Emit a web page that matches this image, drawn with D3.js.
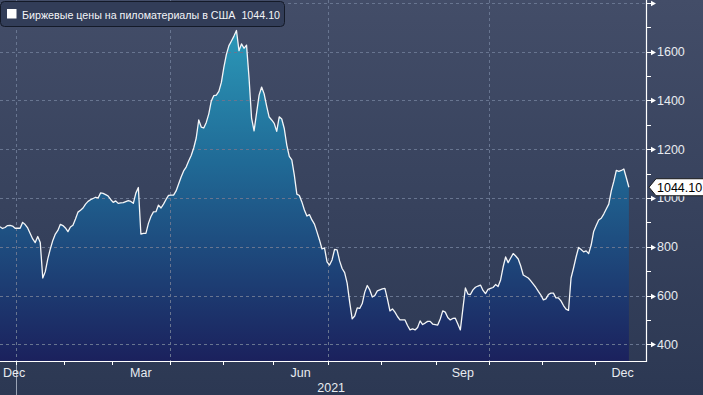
<!DOCTYPE html>
<html>
<head>
<meta charset="utf-8">
<script src="https://cdn.jsdelivr.net/npm/d3@7"></script>
<style>
  html, body { margin: 0; padding: 0; background: #2c3853; }
  svg { display: block; }
  text { font-family: "Liberation Sans", Arial, sans-serif; }
</style>
</head>
<body>
<div id="chart"></div>
<script>
// Lumber futures, daily closes by month (one value per trading day)
var dec20 = [882, 875, 879, 887, 888, 885, 876];
var jan21 = [876, 876, 900, 891, 877, 854, 832, 817, 842, 817, 672, 698, 750, 791, 826, 852, 867, 892, 887];
var feb21 = [877, 862, 881, 888, 914, 942, 950, 959, 975, 986, 993, 998, 1003, 1000, 1021, 1019, 1014, 1008, 994];
var mar21 = [982, 988, 978, 980, 981, 985, 989, 986, 978, 1020, 1043, 852, 855, 855, 896, 924, 943, 944, 971, 959, 975, 994, 1011];
var apr21 = [1012, 1012, 1029, 1057, 1086, 1111, 1127, 1152, 1174, 1205, 1246, 1320, 1291, 1287, 1310, 1345, 1398, 1420, 1422, 1437, 1474];
var may21 = [1537, 1589, 1625, 1644, 1664, 1687, 1604, 1632, 1614, 1627, 1492, 1328, 1275, 1349, 1422, 1455, 1427, 1377, 1332, 1320];
var jun21 = [1306, 1273, 1333, 1324, 1285, 1217, 1171, 1156, 1094, 1016, 1010, 984, 951, 926, 932, 910, 893, 861, 828, 791, 795, 738];
var jul21 = [725, 746, 789, 787, 742, 711, 694, 651, 573, 504, 516, 549, 547, 567, 614, 641, 623, 594, 600, 619, 623];
var aug21 = [627, 629, 586, 537, 545, 532, 514, 500, 500, 500, 477, 459, 463, 459, 469, 496, 481, 487, 494, 494, 483, 481];
var sep21 = [479, 504, 537, 532, 510, 500, 506, 507, 483, 459, 545, 631, 606, 604, 623, 634, 639, 643, 621, 608, 625];
var oct21 = [629, 633, 645, 637, 664, 717, 758, 735, 754, 772, 762, 750, 721, 684, 678, 672, 660, 647, 633, 617, 602];
var nov21 = [582, 586, 604, 610, 610, 590, 590, 578, 559, 544, 539, 672, 713, 758, 797, 789, 779, 783, 772, 807, 863];
var dec21 = [887, 910, 917, 934, 955, 975, 1029, 1068, 1113, 1109, 1113, 1119, 1082, 1044.1];

var firstDate = "2020-12-22";   // first close on the chart
var lastPrice = 1044.10;
var seriesName = "Биржевые цены на пиломатериалы в США";

// exchange holidays (no trading day)
var holidays = ["2020-12-25", "2021-01-01", "2021-01-18", "2021-02-15", "2021-04-02",
                "2021-05-31", "2021-07-05", "2021-09-06", "2021-11-25", "2021-12-24"];

var yMajor = [400, 600, 800, 1000, 1200, 1400, 1600, 1800];
var yMinor = [500, 700, 900, 1100, 1300, 1500, 1700];
var labelMonths = ["Dec", "Mar", "Jun", "Sep"];

var width = 703, height = 395;
var plotW = 646, plotH = 361;

var parse = d3.utcParse("%Y-%m-%d");
var fmt = d3.utcFormat("%Y-%m-%d");
var holidaySet = new Set(holidays);

// trading calendar Dec 2020 .. Dec 2021
var calendar = d3.utcDay.range(parse("2020-12-01"), parse("2022-01-01"))
  .filter(d => d.getUTCDay() % 6 !== 0 && !holidaySet.has(fmt(d)));
var start = calendar.findIndex(d => fmt(d) === firstDate);
calendar = calendar.map((d, i) => ({ date: d, idx: i - start }));

var values = [].concat(dec20, jan21, feb21, mar21, apr21, may21, jun21, jul21, aug21, sep21, oct21, nov21, dec21);
var data = values.map((v, i) => ({ idx: i, value: v, date: calendar[start + i].date }));

var x = d3.scaleLinear().domain([0, 256.8]).range([0, plotW]);
var y = d3.scaleLinear().domain([331.5, 1812]).range([plotH, 0]);

// month spans in trading-day index space
var months = d3.groups(calendar, d => d3.utcMonth(d.date)).map(([m, days]) => ({
  month: m,
  from: days[0].idx - 0.5,
  to: days[days.length - 1].idx + 0.5
}));

var svg = d3.select("#chart").append("svg")
  .attr("width", width)
  .attr("height", height);

var defs = svg.append("defs");
var bg = defs.append("linearGradient").attr("id", "bg")
  .attr("x1", 0).attr("y1", 0).attr("x2", 0).attr("y2", 1);
bg.append("stop").attr("offset", "0%").attr("stop-color", "#434d68");
bg.append("stop").attr("offset", "100%").attr("stop-color", "#2c3853");

var fill = defs.append("linearGradient").attr("id", "fill")
  .attr("gradientUnits", "userSpaceOnUse")
  .attr("x1", 0).attr("y1", 0).attr("x2", 0).attr("y2", plotH);
fill.append("stop").attr("offset", "0%").attr("stop-color", "#2ea3c0");
fill.append("stop").attr("offset", "45%").attr("stop-color", "#206a96");
fill.append("stop").attr("offset", "100%").attr("stop-color", "#1b215d");

svg.append("rect").attr("width", width).attr("height", height).attr("fill", "url(#bg)");

var plot = svg.append("g");

// area + line
plot.append("path")
  .datum(data)
  .attr("fill", "url(#fill)")
  .attr("d", d3.area().x(d => x(d.idx)).y0(plotH).y1(d => y(d.value)));

// grid lines (drawn over the fill)
plot.append("g").selectAll("line")
  .data(yMajor)
  .join("line")
  .attr("x1", 0).attr("x2", plotW)
  .attr("y1", d => Math.round(y(d)) + 0.5).attr("y2", d => Math.round(y(d)) + 0.5)
  .attr("stroke", "#687590").attr("stroke-width", 1).attr("stroke-dasharray", "3,3");

var quarters = months.filter(m => m.month.getUTCMonth() % 3 === 0 && m.from > 0 && x(m.from) < plotW);
plot.append("g").selectAll("line")
  .data(quarters)
  .join("line")
  .attr("x1", d => Math.round(x(d.from)) + 0.5).attr("x2", d => Math.round(x(d.from)) + 0.5)
  .attr("y1", 0).attr("y2", plotH)
  .attr("stroke", "#687590").attr("stroke-width", 1).attr("stroke-dasharray", "3,3");

plot.append("path")
  .datum(data)
  .attr("fill", "none")
  .attr("stroke", "#f4f6f8")
  .attr("stroke-width", 1.3)
  .attr("stroke-linejoin", "round")
  .attr("d", d3.line().x(d => x(d.idx)).y(d => y(d.value)));

// year separator under the axis
var yearStart = months.find(m => m.month.getUTCMonth() === 0);
svg.append("line")
  .attr("x1", Math.round(x(yearStart.from)) + 0.5).attr("x2", Math.round(x(yearStart.from)) + 0.5)
  .attr("y1", plotH).attr("y2", height)
  .attr("stroke", "#9aa3b5").attr("stroke-width", 1);

// x axis
var xAxis = svg.append("g");
xAxis.append("line")
  .attr("x1", 0).attr("x2", plotW).attr("y1", plotH + 0.5).attr("y2", plotH + 0.5)
  .attr("stroke", "#ffffff").attr("stroke-width", 1.2);
xAxis.selectAll("line.tick")
  .data(months.filter(m => m.from > 0 && x(m.from) < plotW))
  .join("line")
  .attr("class", "tick")
  .attr("x1", d => Math.round(x(d.from)) + 0.5).attr("x2", d => Math.round(x(d.from)) + 0.5)
  .attr("y1", plotH).attr("y2", plotH + 4)
  .attr("stroke", "#ffffff");

var monthFmt = d3.utcFormat("%b");
xAxis.selectAll("text.month")
  .data(months.filter(m => labelMonths.includes(monthFmt(m.month))))
  .join("text")
  .attr("class", "month")
  .each(function(d) {
    var cx = x((d.from + d.to) / 2);
    var t = d3.select(this).text(monthFmt(d.month));
    if (cx < 14) t.attr("x", 3).attr("text-anchor", "start");
    else t.attr("x", cx).attr("text-anchor", "middle");
  })
  .attr("y", 377)
  .attr("fill", "#e8ebf0")
  .attr("font-size", "12.5px");

xAxis.append("text")
  .attr("x", (x(yearStart.from) + plotW) / 2)
  .attr("y", 392)
  .attr("text-anchor", "middle")
  .attr("fill", "#e8ebf0")
  .attr("font-size", "12.5px")
  .text(d3.utcFormat("%Y")(yearStart.month));

// y axis on the right
var yAxis = svg.append("g");
yAxis.append("line")
  .attr("x1", plotW + 0.5).attr("x2", plotW + 0.5).attr("y1", 0).attr("y2", plotH + 1)
  .attr("stroke", "#ffffff").attr("stroke-width", 1.2);
yAxis.selectAll("line.minor")
  .data(yMinor)
  .join("line")
  .attr("class", "minor")
  .attr("x1", plotW).attr("x2", plotW + 5)
  .attr("y1", d => Math.round(y(d)) + 0.5).attr("y2", d => Math.round(y(d)) + 0.5)
  .attr("stroke", "#ffffff");
yAxis.selectAll("path.pointer")
  .data(yMajor)
  .join("path")
  .attr("class", "pointer")
  .attr("transform", d => "translate(" + plotW + "," + (Math.round(y(d)) + 0.5) + ")")
  .attr("d", "M0,-0.6 L5,-0.6 L5,-2.8 L10,0 L5,2.8 L5,0.6 L0,0.6 Z")
  .attr("fill", "#ffffff");
yAxis.selectAll("text")
  .data(yMajor.filter(v => y(v) > 10))
  .join("text")
  .attr("x", plotW + 11)
  .attr("y", d => y(d) + 4.5)
  .attr("fill", "#e8ebf0")
  .attr("font-size", "12.5px")
  .text(d => d);

// last price flag (sits over the 1000 label, as in the terminal chart)
var ly = y(lastPrice);
var flag = svg.append("g").attr("transform", "translate(" + (plotW + 3) + "," + ly + ")");
flag.append("path")
  .attr("d", "M0,0 L7,-8.5 L60,-8.5 L60,8.5 L7,8.5 Z")
  .attr("fill", "#ffffff")
  .attr("stroke", "#1a1a1a")
  .attr("stroke-width", 1);
flag.append("text")
  .attr("x", 8).attr("y", 4.5)
  .attr("fill", "#000000")
  .attr("font-size", "12.5px")
  .text(d3.format(".2f")(lastPrice));

// legend
var legend = svg.append("g");
legend.append("rect")
  .attr("x", 0.5).attr("y", 1.5).attr("width", 284).attr("height", 25).attr("rx", 4)
  .attr("fill", "#323d58").attr("stroke", "#141a28").attr("stroke-width", 1);
legend.append("rect")
  .attr("x", 7).attr("y", 9).attr("width", 9.5).attr("height", 9.5)
  .attr("fill", "#ffffff");
legend.append("text")
  .attr("x", 22).attr("y", 18.5)
  .attr("fill", "#f2f4f7")
  .attr("font-size", "10.7px")
  .style("white-space", "pre")
  .text(seriesName + "  " + d3.format(".2f")(lastPrice));
</script>
</body>
</html>
